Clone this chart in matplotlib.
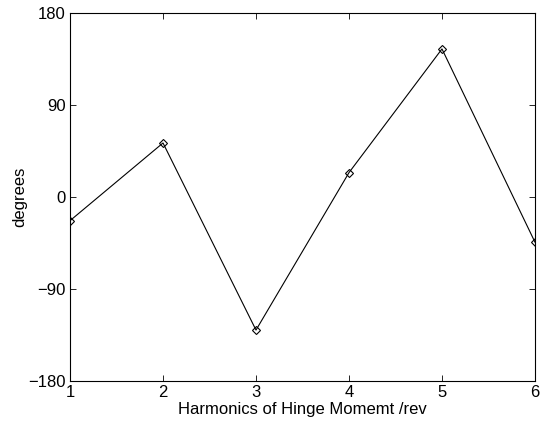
import numpy as np
import matplotlib.pyplot as plt

plt.rcParams['font.family'] = ['Liberation Sans', 'DejaVu Sans']

harmonic = [1, 2, 3, 4, 5, 6]
phase_deg = [-23, 53, -130, 24, 145, -44]

fig = plt.figure(figsize=(5.47, 4.24), dpi=100)
ax = fig.add_axes([0.128, 0.101, 0.850, 0.868])

ax.plot(harmonic, phase_deg, color='black', linewidth=0.8,
        marker='D', markersize=4.5, markerfacecolor='none',
        markeredgecolor='black', markeredgewidth=0.8)

ax.set_xlim(1, 6)
ax.set_ylim(-180, 180)
ax.set_xticks(harmonic)
ax.set_yticks([-180, -90, 0, 90, 180])
ax.set_yticklabels(['\u2212180', '\u221290', '0', '90', '180'])

ax.tick_params(direction='in', top=True, right=True, length=4,
               width=0.6, labelsize=12, pad=3)
for s in ax.spines.values():
    s.set_linewidth(0.8)

ax.set_xlabel('Harmonics of Hinge Momemt /rev', fontsize=12, labelpad=1)
ax.set_ylabel('degrees', fontsize=12, labelpad=1)

fig.savefig('out.png', dpi=100)
